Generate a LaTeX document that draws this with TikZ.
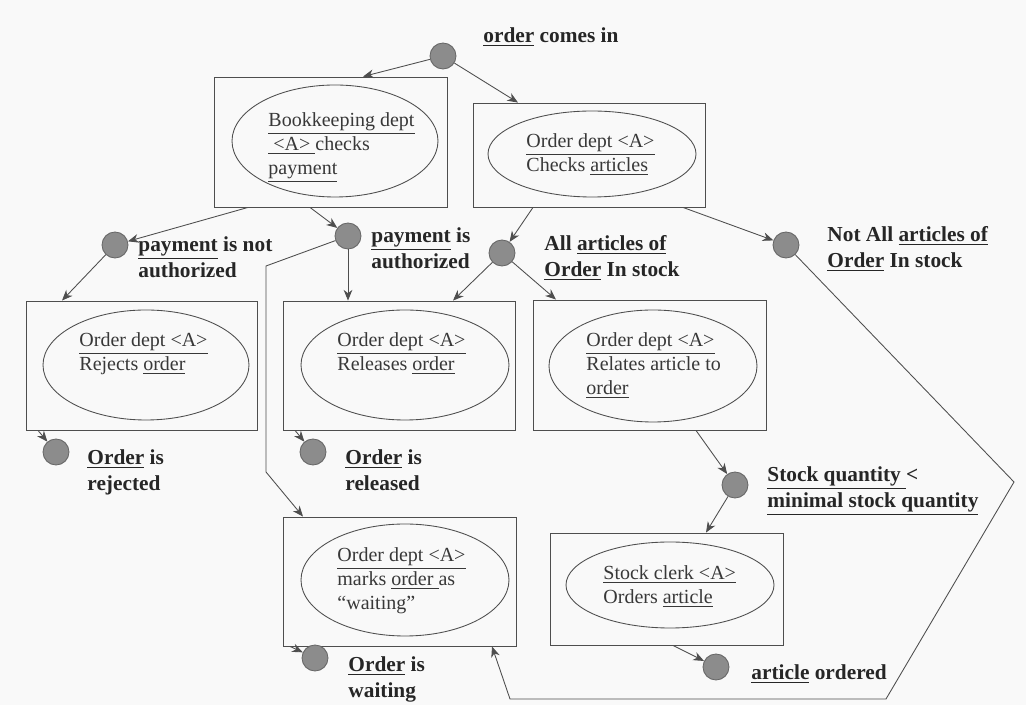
\documentclass[tikz,border=0pt]{standalone}
\usepackage{fontspec}
\setmainfont{Liberation Serif}
\usetikzlibrary{shapes.geometric,calc,arrows.meta}
\definecolor{linegray}{RGB}{78,78,78}
\definecolor{dotgray}{RGB}{140,140,140}
\definecolor{paper}{RGB}{249,249,249}
\newcommand\pxu{0.75pt}
\begin{document}
\begin{tikzpicture}[x=0.75pt, y=-0.75pt, >={Stealth[length=8pt,width=6.5pt,inset=2.5pt]}, line width=0.65pt, draw=linegray,
  box/.style 2 args={draw=linegray, rectangle, inner sep=0pt, minimum width=#1*\pxu, minimum height=#2*\pxu},
  ell/.style 2 args={draw=linegray, ellipse, inner sep=0pt, minimum width=#1*\pxu, minimum height=#2*\pxu},
  dot/.style={draw=black!60, fill=dotgray, circle, inner sep=0pt, minimum size=26*\pxu},
  etext/.style={anchor=base west, align=left, inner sep=0pt, text=black!78, font=\fontsize{15}{18}\selectfont},
  lbl/.style={anchor=base west, align=left, inner sep=0pt, text=black!85, font=\fontsize{16}{19.5}\selectfont\bfseries}]
\fill[paper] (0,0) rectangle (1026,705);
\useasboundingbox (0,0) rectangle (1026,705);

% boxes with their ellipses (text placed at baseline of last line)
\node[box={233}{130}] (bbook) at (330.5,142) {};
\node[ell={206}{112}] (ebook) at (335,141) {};
\node[etext] (tbook) at (268,175) {\underline{Bookkeeping dept}\\\underline{\ <A>\ }checks\\\underline{payment}};

\node[box={232}{104}] (bcheck) at (589,155) {};
\node[ell={208}{86}] (echeck) at (592,154) {};
\node[etext] (tcheck) at (526,172) {\underline{Order dept <A>}\\Checks \underline{articles}};

\node[box={231}{129}] (brej) at (141.5,365.5) {};
\node[ell={206}{110}] (erej) at (146,365) {};
\node[etext] (trej) at (79,371) {\underline{Order dept <A>}\\Rejects \underline{order}};

\node[box={232}{129}] (brel) at (399,365.5) {};
\node[ell={208}{110}] (erel) at (405,365) {};
\node[etext] (trel) at (337,371) {\underline{Order dept <A>}\\Releases \underline{order}};

\node[box={233}{130}] (brelate) at (649.5,365) {};
\node[ell={208}{112}] (erelate) at (653,366) {};
\node[etext] (trelate) at (586,395) {\underline{Order dept <A>}\\Relates article to\\\underline{order}};

\node[box={233}{129}] (bwait) at (399.5,581.5) {};
\node[ell={208}{112}] (ewait) at (405,580) {};
\node[etext] (twait) at (337,610) {\underline{Order dept <A>}\\marks \underline{order }as\\“waiting”};

\node[box={233}{112}] (bclerk) at (666.5,589) {};
\node[ell={208}{86}] (eclerk) at (670,585) {};
\node[etext] (tclerk) at (603,604) {\underline{Stock clerk <A>}\\Orders \underline{article}};

% events
\node[dot] (c0) at (443,56) {};
\node[dot] (cpn) at (115,245) {};
\node[dot] (cpa) at (348,236) {};
\node[dot] (call) at (502,253) {};
\node[dot] (cnot) at (786,245) {};
\node[dot] (crej) at (56,452) {};
\node[dot] (crel) at (313,452) {};
\node[dot] (cstock) at (735,485) {};
\node[dot] (cwait) at (315,658) {};
\node[dot] (cord) at (716,667) {};

\node[lbl] (l0) at (483,43) {\underline{order} comes in};
\node[lbl] (lpn) at (138,278) {\underline{payment} is not\\authorized};
\node[lbl] (lpa) at (371,269) {\underline{payment} is\\authorized};
\node[lbl] (lall) at (544,277) {All \underline{articles of}\\\underline{Order} In stock};
\node[lbl] (lnot) at (827,268) {Not All \underline{articles of}\\\underline{Order} In stock};
\node[lbl] (lrej) at (87,491) {\underline{Order} is\\rejected};
\node[lbl] (lrel) at (345,491) {\underline{Order} is\\released};
\node[lbl] (lstock) at (767,508) {\underline{Stock quantity }<\\\underline{minimal stock quantity}};
\node[lbl] (lwait) at (348,698) {\underline{Order} is\\waiting};
\node[lbl] (lord) at (751,680) {\underline{article} ordered};

% flow
\draw[->] (c0) -- ($(bbook.north)+(32.5,0)$);
\draw[->] (c0) -- ($(bcheck.north)+(-71,0)$);
\draw[->] ($(bbook.south)+(-82.5,0)$) -- (cpn);
\draw[->] ($(bbook.south)+(-20.5,0)$) -- (cpa);
\draw[->] (cpn) -- ($(brej.north)+(-79.5,0)$);
\draw[->] (cpa) -- (cpa |- brel.north);
\draw[->] (cpa) -- ++(-82,30) -- ++(0,206) -- ($(bwait.north)+(-96.5,0)$);
\draw[->] ($(bcheck.south)+(-56,0)$) -- (call);
\draw[->] (call) -- ($(brel.north)+(54,0)$);
\draw[->] (call) -- ($(brelate.north)+(-93.5,0)$);
\draw[->] ($(bcheck.south)+(94,0)$) -- (cnot);
\draw[->] (cnot) -- ++(228,237) -- ++(-128,217) -- ++(-376,0) -- ($(bwait.south)+(92.5,0)$);
\draw[->] ($(brelate.south)+(46.5,0)$) -- (cstock);
\draw[->] (cstock) -- ($(bclerk.north)+(39.5,0)$);
\draw[->] ($(bclerk.south)+(6.5,0)$) -- (cord);
\draw[->] ($(brej.south)+(-103.5,0)$) -- (crej);
\draw[->] ($(brel.south)+(-104,0)$) -- (crel);
\draw[->] ($(bwait.south)+(-109.5,0)$) -- (cwait);
\end{tikzpicture}
\end{document}
